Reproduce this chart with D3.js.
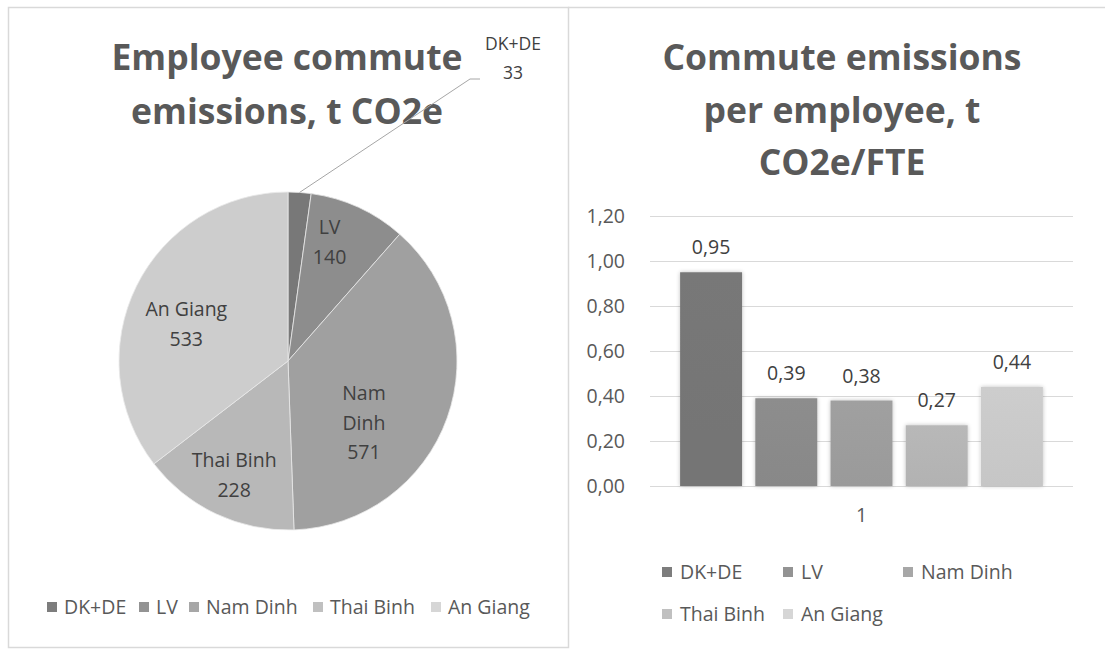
<!DOCTYPE html>
<html>
<head>
<meta charset="utf-8">
<script src="https://cdn.jsdelivr.net/npm/d3@7"></script>
<style>
  html, body { margin: 0; padding: 0; background: #fff; }
  svg { display: block; }
  text { font-family: "Open Sans", Lato, sans-serif; }
</style>
</head>
<body>
<svg id="chart" width="1105" height="649"></svg>
<script>
// Sites, shared by both charts
const sites = ["DK+DE", "LV", "Nam Dinh", "Thai Binh", "An Giang"];
// Total commute emissions per site, t CO2e
const totalEmissions = [33, 140, 571, 228, 533];
// Commute emissions per employee, t CO2e/FTE
const perEmployee = [0.95, 0.39, 0.38, 0.27, 0.44];
// Bar chart category and axis ticks
const barCategory = ["1"];
const yTicks = [0, 0.2, 0.4, 0.6, 0.8, 1.0, 1.2];

const pieTitle = ["Employee commute", "emissions, t CO2e"];
const barTitle = ["Commute emissions", "per employee, t", "CO2e/FTE"];

const greys = ["#7d7d7d", "#939393", "#a7a7a7", "#c0c0c0", "#d6d6d6"];

const fmt = d3.formatLocale({decimal: ",", thousands: ".", grouping: [3], currency: ["", ""]}).format(".2f");

const FS = 19.5;           // label font size
const TFS = 35.5;          // title font size
const titleColor = "#595959";
const labelColor = "#404040";

const svg = d3.select("#chart");
const defs = svg.append("defs");

// Panel frames
svg.append("rect").attr("x", 8.5).attr("y", 7.5).attr("width", 560).attr("height", 640)
  .attr("fill", "none").attr("stroke", "#d9d9d9").attr("stroke-width", 1.5);
svg.append("line").attr("x1", 568).attr("x2", 1105).attr("y1", 7.5).attr("y2", 7.5)
  .attr("stroke", "#d9d9d9").attr("stroke-width", 1.5);

const cx = 288, cy = 361, R = 169;

// Gradients: slightly lighter pie centres, slightly darker bar bottoms
sites.forEach((s, i) => {
  const c = d3.color(greys[i]);
  const rg = defs.append("radialGradient").attr("id", "pg" + i)
    .attr("gradientUnits", "userSpaceOnUse").attr("cx", cx).attr("cy", cy).attr("r", R);
  rg.append("stop").attr("offset", "0%").attr("stop-color", c.brighter(0.12));
  rg.append("stop").attr("offset", "88%").attr("stop-color", c.brighter(0.05));
  rg.append("stop").attr("offset", "100%").attr("stop-color", c.darker(0.12));
  const lg = defs.append("linearGradient").attr("id", "bg" + i)
    .attr("x1", 0).attr("x2", 0).attr("y1", 0).attr("y2", 1);
  lg.append("stop").attr("offset", "0%").attr("stop-color", c.darker(0.12));
  lg.append("stop").attr("offset", "100%").attr("stop-color", c.darker(0.22));
});
const shadow = defs.append("filter").attr("id", "soft").attr("x", "-20%").attr("y", "-20%").attr("width", "140%").attr("height", "140%");
shadow.append("feGaussianBlur").attr("in", "SourceAlpha").attr("stdDeviation", 2).attr("result", "b");
shadow.append("feComponentTransfer").attr("in", "b").attr("result", "s")
  .append("feFuncA").attr("type", "linear").attr("slope", 0.25);
const m = shadow.append("feMerge");
m.append("feMergeNode").attr("in", "s");
m.append("feMergeNode").attr("in", "SourceGraphic");

/* ---------- Pie chart ---------- */
const pieG = svg.append("g");
pieG.append("text").attr("text-anchor", "middle")
  .attr("font-weight", 700).attr("font-size", TFS).attr("fill", titleColor)
  .selectAll("tspan").data(pieTitle).join("tspan")
  .attr("x", 287).attr("y", (d, i) => 70 + i * 54).text(d => d);

const pie = d3.pie().sort(null).value(d => d.v);
const pieData = pie(sites.map((s, i) => ({s, v: totalEmissions[i], i})));
const arc = d3.arc().innerRadius(0).outerRadius(R);
const pg = pieG.append("g").attr("transform", `translate(${cx},${cy})`);
pg.selectAll("path").data(pieData).join("path")
  .attr("d", arc).attr("fill", d => `url(#pg${d.data.i})`)
  .attr("stroke", "#e8e8e8").attr("stroke-width", 0.8);

// In-slice labels: [radius fraction, position within the slice's angle span]
const labelLines = {"LV": ["LV"], "Nam Dinh": ["Nam", "Dinh"], "Thai Binh": ["Thai Binh"], "An Giang": ["An Giang"]};
const labelPlace = {"LV": [0.745, 0.34], "Nam Dinh": [0.58, 0.643], "Thai Binh": [0.747, 0.5], "An Giang": [0.64, 0.45]};
pieData.filter(d => d.data.s !== "DK+DE").forEach(d => {
  const [rf, af] = labelPlace[d.data.s];
  const ang = d.startAngle + (d.endAngle - d.startAngle) * af;
  const lx = Math.sin(ang) * R * rf, ly = -Math.cos(ang) * R * rf;
  const lines = labelLines[d.data.s].concat([String(d.data.v)]);
  const t = pg.append("text").attr("text-anchor", "middle").attr("font-size", FS).attr("fill", labelColor);
  lines.forEach((l, k) => {
    t.append("tspan").attr("x", lx).attr("y", ly + (k - (lines.length - 1) / 2) * 29.5 + 7).text(l);
  });
});

// Outside label with leader line for the small slice
const small = pieData[0];
const edgeAng = (small.startAngle + small.endAngle) / 2;
const ex = Math.sin(edgeAng) * R, ey = -Math.cos(edgeAng) * R;
pg.append("polyline")
  .attr("points", [[ex, ey], [470 - cx, 79 - cy], [480 - cx, 79 - cy]].map(p => p.join(",")).join(" "))
  .attr("fill", "none").attr("stroke", "#a6a6a6").attr("stroke-width", 1);
const ot = pieG.append("text").attr("text-anchor", "middle").attr("font-size", FS * 0.9).attr("fill", labelColor);
ot.append("tspan").attr("x", 513).attr("y", 50).text(small.data.s);
ot.append("tspan").attr("x", 513).attr("y", 79).text(small.data.v);

// Legend
const legL = pieG.append("g").attr("transform", "translate(0,607)");
const legX = [47, 139, 189, 313, 431];
sites.forEach((s, i) => {
  legL.append("rect").attr("x", legX[i]).attr("y", -5).attr("width", 10).attr("height", 10).attr("fill", greys[i]);
  legL.append("text").attr("x", legX[i] + 17).attr("y", 7).attr("font-size", FS).attr("fill", titleColor).text(s);
});

/* ---------- Bar chart ---------- */
const barG = svg.append("g");
barG.append("text").attr("text-anchor", "middle")
  .attr("font-weight", 700).attr("font-size", TFS).attr("fill", titleColor)
  .selectAll("tspan").data(barTitle).join("tspan")
  .attr("x", 842).attr("y", (d, i) => 70 + i * 52.5).text(d => d);

const plot = {left: 650, right: 1073, top: 216, bottom: 486};
const y = d3.scaleLinear().domain([0, 1.2]).range([plot.bottom, plot.top]);
const x0 = d3.scaleBand().domain(barCategory).range([plot.left, plot.right]).paddingInner(0).paddingOuter(0.083);
const x1 = d3.scaleBand().domain(sites).range([0, x0.bandwidth()]).paddingInner(0.176).paddingOuter(0);

// Gridlines and y axis
const yAxis = d3.axisLeft(y).tickValues(yTicks).tickFormat(fmt)
  .tickSize(-(plot.right - plot.left)).tickPadding(25);
const ya = barG.append("g").attr("transform", `translate(${plot.left},0)`).call(yAxis);
ya.select(".domain").remove();
ya.selectAll(".tick line").attr("stroke", "#d9d9d9").attr("stroke-width", 1.2);
ya.selectAll(".tick text").attr("font-size", FS).attr("fill", titleColor)
  .attr("font-family", '"Open Sans", Lato, sans-serif');

// Category axis
const xa = barG.append("g").attr("transform", `translate(0,${plot.bottom})`)
  .call(d3.axisBottom(x0).tickSize(0).tickPadding(22));
xa.select(".domain").remove();
xa.selectAll(".tick text").attr("font-size", FS).attr("fill", titleColor)
  .attr("font-family", '"Open Sans", Lato, sans-serif');

const groups = barG.selectAll("g.grp").data(barCategory).join("g").attr("class", "grp")
  .attr("transform", d => `translate(${x0(d)},0)`);
const barData = sites.map((s, i) => ({s, v: perEmployee[i], i}));
groups.selectAll("rect").data(barData).join("rect")
  .attr("x", d => x1(d.s)).attr("width", x1.bandwidth())
  .attr("y", d => y(d.v)).attr("height", d => y(0) - y(d.v))
  .attr("fill", d => `url(#bg${d.i})`).attr("filter", "url(#soft)");
groups.selectAll("text.val").data(barData).join("text").attr("class", "val")
  .attr("x", d => x1(d.s) + x1.bandwidth() / 2).attr("y", d => y(d.v) - 18)
  .attr("text-anchor", "middle").attr("font-size", FS).attr("fill", labelColor)
  .text(d => fmt(d.v));

// Legend (two rows)
const legR = barG.append("g");
const legPos = [[662, 572], [783, 572], [903, 572], [662, 614], [783, 614]];
sites.forEach((s, i) => {
  const [lx, ly] = legPos[i];
  legR.append("rect").attr("x", lx).attr("y", ly - 5).attr("width", 10).attr("height", 10).attr("fill", greys[i]);
  legR.append("text").attr("x", lx + 18).attr("y", ly + 7).attr("font-size", FS).attr("fill", titleColor).text(s);
});
</script>
</body>
</html>
